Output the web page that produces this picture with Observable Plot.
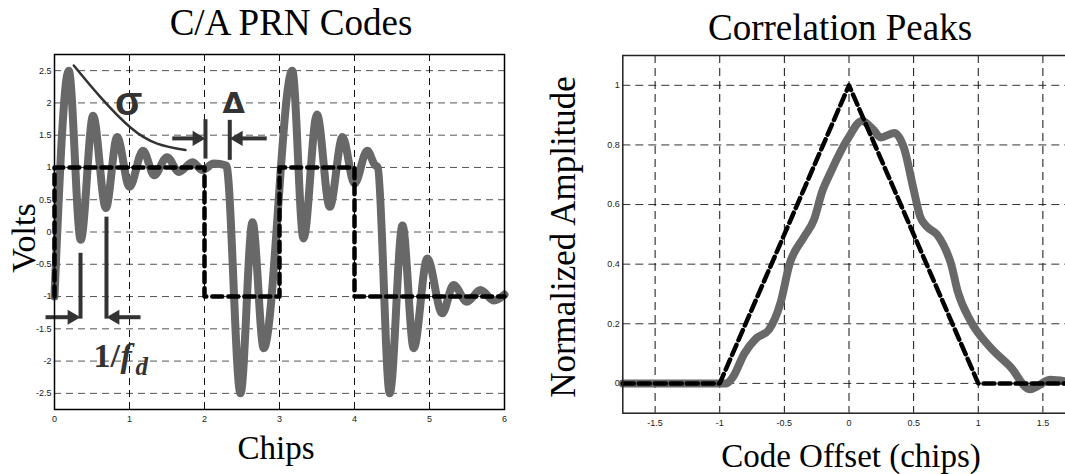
<!DOCTYPE html>
<html>
<head>
<meta charset="utf-8">
<script src="https://cdn.jsdelivr.net/npm/d3@7"></script>
<script src="https://cdn.jsdelivr.net/npm/@observablehq/plot@0.6"></script>
<style>
html, body { margin: 0; padding: 0; background: #fff; overflow: hidden; }
#wrap { position: relative; width: 1065px; height: 474px; overflow: hidden; background: #fff; }
#wrap > svg { position: absolute; top: 0; }
#labels { left: 0; pointer-events: none; }
#labels text { font-family: "Liberation Serif", "Times New Roman", serif; fill: #000; }
</style>
</head>
<body>
<div id="wrap"></div>
<script>
// ---------- Left panel: C/A PRN codes ----------
const chipTicks = [0, 1, 2, 3, 4, 5, 6];
const voltTicks = [-2.5, -2, -1.5, -1, -0.5, 0, 0.5, 1, 1.5, 2, 2.5];

// ideal code (square wave)
const codeX = [0, 0, 2, 2, 3, 3, 4, 4, 6];
const codeV = [-1, 1, 1, -1, -1, 1, 1, -1, -1];

// received (ringing) signal, read at its extrema
const sigX = [0, 0.19, 0.35, 0.515, 0.685, 0.835, 1.0, 1.18, 1.33, 1.50, 1.66, 1.84, 1.97, 2.125, 2.29,
  2.48, 2.64, 2.79, 3.17, 3.32, 3.50, 3.67, 3.84, 4.0, 4.17, 4.27, 4.31, 4.47, 4.64, 4.79, 4.97,
  5.17, 5.32, 5.50, 5.68, 5.86, 6.0];
const sigV = [-1, 2.5, -0.12, 1.80, 0.37, 1.47, 0.70, 1.26, 0.88, 1.16, 0.93, 1.08, 0.96, 1.06, 1.03,
  -2.5, 0.15, -1.8, 2.5, -0.1, 1.82, 0.39, 1.47, 0.75, 1.26, 1.04, 1.0, -2.5, 0.1, -1.8, -0.41,
  -1.26, -0.82, -1.08, -0.90, -1.06, -0.97];

// sigma envelope annotation
const envX = [0.257, 0.613, 1.013, 1.369, 1.747];
const envV = [2.58, 2.09, 1.62, 1.37, 1.27];

// marker bars and arrows (delta and 1/fd)
const markX = [2.013, 2.337, 0.347, 0.693];
const markTop = [1.74, 1.73, -0.33, 0.23];
const markBottom = [1.13, 1.11, -1.35, -1.35];
const arrowFrom = [1.57, 2.83, -0.12, 1.147];
const arrowTip = [2.013, 2.337, 0.347, 0.693];
const arrowV = [1.45, 1.45, -1.32, -1.32];

// text annotations
const annText = ["σ", "Δ"];
const annX = [0.99, 2.39];
const annV = [2.01, 1.99];
const fdX = 0.52, fdV = -2.09;

// ---------- Right panel: correlation peaks ----------
const offsetTicks = [-1.5, -1, -0.5, 0, 0.5, 1, 1.5];
const ampTicks = [0, 0.2, 0.4, 0.6, 0.8, 1];
const idealX = [-1.75, -1, 0, 1, 1.75];
const idealV = [0, 0, 1, 0, 0];
const corrX = [-1.75, -0.95, -0.90, -0.81, -0.72, -0.62, -0.53, -0.46, -0.35, -0.27, -0.21, -0.14, -0.01,
  0.10, 0.19, 0.245, 0.35, 0.425, 0.50, 0.55, 0.605, 0.68, 0.73, 0.79, 0.84, 0.94, 1.095, 1.25, 1.40, 1.56, 1.75];
const corrV = [0, 0, 0.02, 0.10, 0.15, 0.18, 0.27, 0.40, 0.49, 0.55, 0.64, 0.71, 0.82,
  0.88, 0.85, 0.825, 0.84, 0.79, 0.65, 0.56, 0.525, 0.50, 0.465, 0.40, 0.31, 0.21, 0.12, 0.055, -0.02, 0.012, 0];

// ---------- build tables ----------
const zip = (xs, ys) => xs.map((x, i) => ({x, y: ys[i]}));
const code = zip(codeX, codeV);
const sig = zip(sigX, sigV);
const env = zip(envX, envV);
const marks = markX.map((x, i) => ({x, y1: markTop[i], y2: markBottom[i]}));
const arrows = arrowFrom.map((f, i) => {
  const t = arrowTip[i], s = Math.sign(t - f);
  return {from: f, tip: t, end: t - s * 0.12, y: arrowV[i], dir: s};
});
const anns = annText.map((t, i) => ({t, x: annX[i], y: annV[i]}));
const ideal = zip(idealX, idealV);
const corr = zip(corrX, corrV);

const headRight = {draw(ctx, size) { const r = Math.sqrt(size / Math.PI);
  ctx.moveTo(0, 0); ctx.lineTo(-2.3 * r, -1.35 * r); ctx.lineTo(-2.3 * r, 1.35 * r); ctx.closePath(); }};
const headLeft = {draw(ctx, size) { const r = Math.sqrt(size / Math.PI);
  ctx.moveTo(0, 0); ctx.lineTo(2.3 * r, -1.35 * r); ctx.lineTo(2.3 * r, 1.35 * r); ctx.closePath(); }};

const fmt = d => String(d);
const axisStyle = {fontFamily: "'Liberation Sans', Arial, sans-serif", fontSize: "9px", color: "#222", background: "#fff", overflow: "visible"};
const ink = "#333";
const gray = "#686868";

const left = Plot.plot({
  width: 560, height: 474,
  marginLeft: 54, marginRight: 56, marginTop: 54, marginBottom: 65,
  style: axisStyle,
  x: {domain: [0, 6], ticks: chipTicks, tickFormat: fmt, tickSize: 0, tickPadding: 6, label: null},
  y: {domain: [-2.75, 2.75], ticks: voltTicks, tickFormat: fmt, tickSize: 0, tickPadding: 3, label: null},
  marks: [
    Plot.ruleY(voltTicks, {stroke: "#555", strokeWidth: 1, strokeDasharray: "7,5"}),
    Plot.ruleX(chipTicks, {stroke: "#111", strokeWidth: 1, strokeDasharray: "7,5"}),
    Plot.line(sig, {x: "x", y: "y", curve: "monotone-x", stroke: gray, strokeWidth: 8, strokeLinejoin: "round", strokeLinecap: "round"}),
    Plot.line(code, {x: "x", y: "y", stroke: "#000", strokeWidth: 4.5, strokeDasharray: "10,6"}),
    Plot.line(env, {x: "x", y: "y", curve: "natural", stroke: ink, strokeWidth: 2.5}),
    Plot.ruleX(marks, {x: "x", y1: "y1", y2: "y2", stroke: ink, strokeWidth: 4}),
    Plot.link(arrows, {x1: "from", x2: "end", y1: "y", y2: "y", stroke: ink, strokeWidth: 4}),
    Plot.dot(arrows.filter(d => d.dir > 0), {x: "tip", y: "y", r: 5.6, symbol: headRight, fill: ink, stroke: "none"}),
    Plot.dot(arrows.filter(d => d.dir < 0), {x: "tip", y: "y", r: 5.6, symbol: headLeft, fill: ink, stroke: "none"}),
    Plot.text(anns.slice(0, 1), {x: "x", y: "y", text: "t", fontSize: 40, fontWeight: "bold", fill: ink, fontFamily: "'Liberation Sans', Arial, sans-serif"}),
    Plot.text(anns.slice(1), {x: "x", y: "y", text: "t", fontSize: 29, fontWeight: "bold", fill: ink, fontFamily: "'DejaVu Sans', sans-serif"}),
    Plot.text([{x: fdX, y: fdV}], {x: "x", y: "y", text: () => "1/", textAnchor: "start", lineAnchor: "bottom", fontSize: 34, fontWeight: "bold", fill: ink, fontFamily: "'Liberation Serif', serif"}),
    Plot.text([{x: fdX, y: fdV}], {x: "x", y: "y", text: () => "f", dx: 27, textAnchor: "start", lineAnchor: "bottom", fontSize: 34, fontWeight: "bold", fontStyle: "italic", fill: ink, fontFamily: "'Liberation Serif', serif"}),
    Plot.text([{x: fdX, y: fdV}], {x: "x", y: "y", text: () => "d", dx: 42, dy: 8, textAnchor: "start", lineAnchor: "bottom", fontSize: 25, fontWeight: "bold", fontStyle: "italic", fill: ink, fontFamily: "'Liberation Serif', serif"}),
    Plot.frame({stroke: "#000", strokeWidth: 1.5})
  ]
});
left.style.left = "0px";

const right = Plot.plot({
  width: 560, height: 474,
  marginLeft: 62.3, marginRight: 45.3, marginTop: 55, marginBottom: 61.3,
  style: axisStyle,
  x: {domain: [-1.75, 1.75], ticks: offsetTicks, tickFormat: fmt, tickSize: 0, tickPadding: 6, label: null},
  y: {domain: [-0.1, 1.1], ticks: ampTicks, tickFormat: fmt, tickSize: 0, tickPadding: 3, label: null},
  marks: [
    Plot.ruleY(ampTicks, {stroke: "#333", strokeWidth: 1, strokeDasharray: "8,5"}),
    Plot.ruleX(offsetTicks, {stroke: "#111", strokeWidth: 1, strokeDasharray: "8,5"}),
    Plot.line(corr, {x: "x", y: "y", curve: "monotone-x", stroke: gray, strokeWidth: 8, strokeLinejoin: "round", strokeLinecap: "round"}),
    Plot.line(ideal, {x: "x", y: "y", stroke: "#000", strokeWidth: 4.5, strokeDasharray: "11,5"}),
    Plot.frame({stroke: "#222", strokeWidth: 1.5})
  ]
});
right.style.left = "560px";

const wrap = document.getElementById("wrap");
wrap.appendChild(left);
wrap.appendChild(right);

// titles and axis labels
const ns = "http://www.w3.org/2000/svg";
const lab = document.createElementNS(ns, "svg");
lab.setAttribute("id", "labels");
lab.setAttribute("width", 1065);
lab.setAttribute("height", 474);
const labels = [
  {t: "C/A PRN Codes", x: 291, y: 35, s: 37, r: 0},
  {t: "Correlation Peaks", x: 840, y: 40, s: 37, r: 0},
  {t: "Chips", x: 276, y: 459, s: 33, r: 0},
  {t: "Code Offset (chips)", x: 851, y: 467, s: 33, r: 0},
  {t: "Volts", x: 35, y: 238, s: 34, r: -90},
  {t: "Normalized Amplitude", x: 575, y: 237, s: 35, r: -90}
];
for (const l of labels) {
  const el = document.createElementNS(ns, "text");
  el.textContent = l.t;
  el.setAttribute("text-anchor", "middle");
  el.setAttribute("font-size", l.s);
  el.setAttribute("transform", `translate(${l.x},${l.y}) rotate(${l.r})`);
  lab.appendChild(el);
}
wrap.appendChild(lab);
</script>
</body>
</html>
